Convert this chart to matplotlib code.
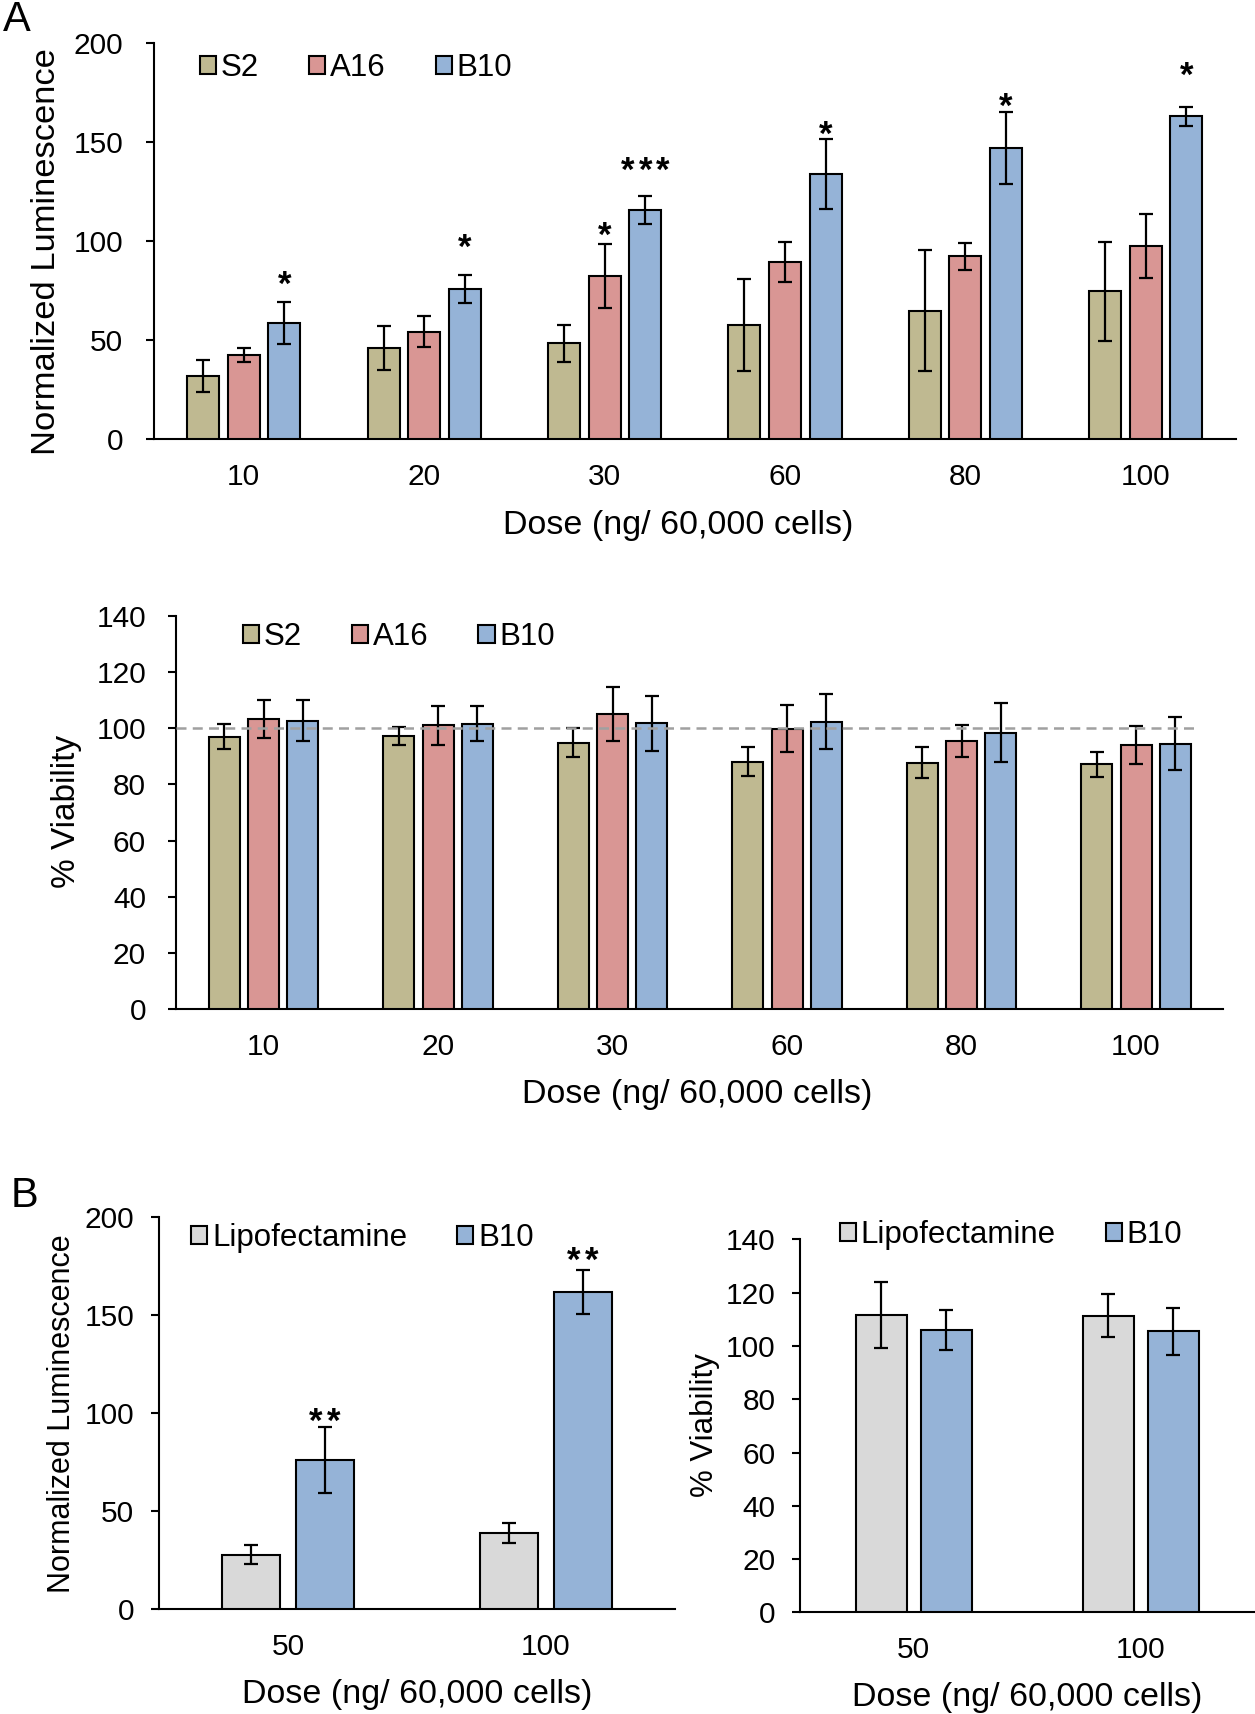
import numpy as np
import matplotlib
matplotlib.use("Agg")
import matplotlib.pyplot as plt

plt.rcParams["font.family"] = ["Liberation Sans", "DejaVu Sans"]

W, H = 1255, 1714  # output size in pixels (dpi 100)

# ---------------- Panel A data ----------------
doses_a = ["10", "20", "30", "60", "80", "100"]
series_a = ["S2", "A16", "B10"]

lum_s2 = [32.0, 46.1, 48.5, 57.7, 65.0, 74.7]
lum_s2_err = [8.0, 11.3, 9.3, 23.3, 30.7, 25.0]
lum_a16 = [42.6, 54.4, 82.5, 89.4, 92.4, 97.6]
lum_a16_err = [3.5, 7.7, 16.0, 10.0, 6.9, 16.1]
lum_b10 = [58.6, 75.9, 115.7, 133.8, 147.1, 163.1]
lum_b10_err = [10.5, 7.1, 7.2, 17.7, 18.1, 4.8]

via_s2 = [97.0, 97.2, 94.8, 88.1, 87.8, 87.1]
via_s2_err = [4.5, 3.1, 5.2, 5.2, 5.5, 4.5]
via_a16 = [103.2, 101.1, 105.1, 99.8, 95.4, 94.0]
via_a16_err = [6.7, 6.9, 9.7, 8.4, 5.8, 6.9]
via_b10 = [102.7, 101.6, 101.8, 102.4, 98.4, 94.5]
via_b10_err = [7.4, 6.3, 9.8, 9.7, 10.5, 9.4]

# significance marks: dose index, series index, number of stars, height of mark
sig_a_dose = [0, 1, 2, 2, 3, 4, 5]
sig_a_series = [2, 2, 1, 2, 2, 2, 2]
sig_a_stars = [1, 1, 1, 3, 1, 1, 1]
sig_a_y = [81, 100, 106, 139, 157, 171, 187]

# ---------------- Panel B data ----------------
doses_b = ["50", "100"]
series_b = ["Lipofectamine", "B10"]

lum_lipo = [27.8, 38.8]
lum_lipo_err = [4.9, 5.0]
lum_b10_b = [76.3, 161.6]
lum_b10_b_err = [16.8, 11.3]

via_lipo = [111.6, 111.4]
via_lipo_err = [12.5, 8.1]
via_b10_b = [106.0, 105.5]
via_b10_b_err = [7.6, 8.8]

sig_b_stars = [2, 2]
sig_b_y = [99, 181]

colors_a = ["#BFB991", "#D99694", "#95B3D7"]
colors_b = ["#D9D9D9", "#95B3D7"]

STAR_SIZE = 25
STAR_GAP = 12.5  # points between neighbouring stars


def px_axes(fig, left, top, right, bottom):
    """Add axes from pixel box (y measured from top)."""
    return fig.add_axes([left / W, 1 - bottom / H, (right - left) / W, (bottom - top) / H])


def ftext(fig, x, y, s, **kw):
    fig.text(x / W, 1 - y / H, s, ha="center", va="center", **kw)


def style_axes(ax, ymax, ystep, ncat, ypad):
    ax.set_xlim(-0.5, ncat - 0.5)
    ax.set_ylim(0, ymax)
    ax.set_yticks(np.arange(0, ymax + 1, ystep))
    for side in ("top", "right"):
        ax.spines[side].set_visible(False)
    for side in ("left", "bottom"):
        ax.spines[side].set_linewidth(1.5)
        ax.spines[side].set_color("black")
    ax.tick_params(axis="y", direction="out", length=5.8, width=1.5, pad=ypad, labelsize=21.5)
    ax.tick_params(axis="x", length=0, pad=17, labelsize=21.5)


def draw_bars(ax, cats, vals, errs, labels, colors, width, step):
    x = np.arange(len(cats))
    n = len(vals)
    for i, (v, e, lab, c) in enumerate(zip(vals, errs, labels, colors)):
        off = (i - (n - 1) / 2) * step
        ax.bar(x + off, v, width, yerr=e, color=c, edgecolor="black",
               linewidth=1.5, label=lab, zorder=3,
               error_kw=dict(elinewidth=1.6, capsize=4.8, capthick=1.6,
                             ecolor="black", zorder=4))
    ax.set_xticks(x)
    ax.set_xticklabels(cats)


def add_legend(fig, ax, x, y):
    ax.legend(loc="center left", bbox_to_anchor=(x / W, 1 - y / H),
              bbox_transform=fig.transFigure, ncol=3, frameon=False,
              borderpad=0, borderaxespad=0, handlelength=0.52,
              handleheight=0.52, handletextpad=0.15, columnspacing=1.6,
              fontsize=22.5)


def add_stars(ax, xs, ys, counts):
    for xx, yy, n in zip(xs, ys, counts):
        for k in range(n):
            dx = (k - (n - 1) / 2) * STAR_GAP
            ax.annotate("*", (xx, yy), xytext=(dx, -0.47 * STAR_SIZE),
                        textcoords="offset points", ha="center", va="baseline",
                        fontsize=STAR_SIZE, fontweight="bold", zorder=5)


fig = plt.figure(figsize=(W / 100, H / 100), dpi=100)

# ---------- A: luminescence ----------
step_a, width_a = 0.225, 0.178
ax1 = px_axes(fig, 153.6, 43.3, 1236, 439.3)
draw_bars(ax1, doses_a, [lum_s2, lum_a16, lum_b10],
          [lum_s2_err, lum_a16_err, lum_b10_err], series_a, colors_a, width_a, step_a)
style_axes(ax1, 200, 50, len(doses_a), 16)
add_legend(fig, ax1, 200, 68)
add_stars(ax1, [d + (s - 1) * step_a for d, s in zip(sig_a_dose, sig_a_series)],
          sig_a_y, sig_a_stars)
ftext(fig, 46.5, 251.5, "Normalized Luminescence", rotation=90, fontsize=24.8)
ftext(fig, 678, 525.5, "Dose (ng/ 60,000 cells)", fontsize=24.5)
ftext(fig, 16.5, 20, "A", fontsize=30)

# ---------- A: viability ----------
ax2 = px_axes(fig, 176.3, 616, 1223.3, 1009)
draw_bars(ax2, doses_a, [via_s2, via_a16, via_b10],
          [via_s2_err, via_a16_err, via_b10_err], series_a, colors_a, width_a, step_a)
style_axes(ax2, 140, 20, len(doses_a), 16)
ax2.hlines(100, -0.5, 5.35, colors="#A0A0A0", linestyles=(0, (4, 2.5)),
           linewidth=1.8, zorder=5)
add_legend(fig, ax2, 242.7, 637)
ftext(fig, 66.5, 811, "% Viability", rotation=90, fontsize=24)
ftext(fig, 697.5, 1094, "Dose (ng/ 60,000 cells)", fontsize=24.5)

# ---------- B: luminescence ----------
step_b, width_b = 0.285, 0.225
ax3 = px_axes(fig, 159, 1216.9, 675, 1609.3)
draw_bars(ax3, doses_b, [lum_lipo, lum_b10_b], [lum_lipo_err, lum_b10_b_err],
          series_b, colors_b, width_b, step_b)
style_axes(ax3, 200, 50, len(doses_b), 12)
add_legend(fig, ax3, 191, 1238)
add_stars(ax3, [i + step_b / 2 for i in range(len(doses_b))], sig_b_y, sig_b_stars)
ftext(fig, 62.3, 1413.5, "Normalized Luminescence", rotation=90, fontsize=22)
ftext(fig, 416.9, 1694, "Dose (ng/ 60,000 cells)", fontsize=24.5)
ftext(fig, 25, 1196, "B", fontsize=30)

# ---------- B: viability ----------
ax4 = px_axes(fig, 800.3, 1239.3, 1254.3, 1612.4)
draw_bars(ax4, doses_b, [via_lipo, via_b10_b], [via_lipo_err, via_b10_b_err],
          series_b, colors_b, width_b, step_b)
style_axes(ax4, 140, 20, len(doses_b), 12)
add_legend(fig, ax4, 839.6, 1235)
ftext(fig, 705, 1425.5, "% Viability", rotation=90, fontsize=22.5)
ftext(fig, 1027.6, 1697.5, "Dose (ng/ 60,000 cells)", fontsize=24.5)

fig.savefig("out.png", dpi=100)
